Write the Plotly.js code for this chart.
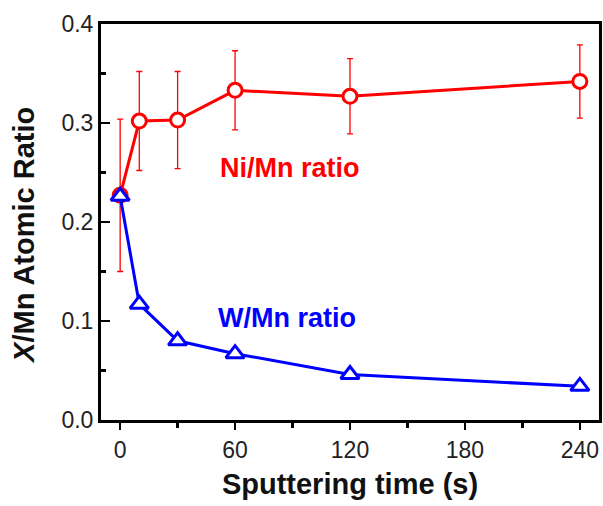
<!DOCTYPE html>
<html><head><meta charset="utf-8">
<script src="https://cdn.plot.ly/plotly-3.0.1.min.js"></script>
<style>html,body{margin:0;padding:0;background:#fff}#chart{width:603px;height:506px}</style>
</head><body><div id="chart"></div>
<script>
const timeS = [0, 10, 30, 60, 120, 240];
const niMn = [0.227, 0.302, 0.303, 0.333, 0.327, 0.342];
const niMnErr = [0.077, 0.050, 0.049, 0.040, 0.038, 0.037];
const wMn = [0.226, 0.117, 0.080, 0.067, 0.046, 0.034];
const xTicks = [0, 60, 120, 180, 240];
const yTicks = [0.0, 0.1, 0.2, 0.3, 0.4];

const traces = [
  {x: timeS, y: niMn, type: 'scatter', mode: 'lines+markers', name: 'Ni/Mn ratio',
   line: {color: '#ff0000', width: 3},
   marker: {symbol: 'circle', size: 14, color: '#fff', line: {color: '#ff0000', width: 3}},
   error_y: {type: 'data', array: niMnErr, visible: true, color: '#ff0000', thickness: 1.3, width: 3}},
  {x: timeS, y: wMn, type: 'scatter', mode: 'lines+markers', name: 'W/Mn ratio',
   line: {color: '#0000ff', width: 3},
   marker: {symbol: 'triangle-up', size: 16, color: '#fff', line: {color: '#0000ff', width: 3}}}
];

const layout = {
  width: 603, height: 506,
  margin: {l: 101, r: 4, t: 24, b: 86},
  paper_bgcolor: '#fff', plot_bgcolor: '#fff',
  showlegend: false,
  font: {family: 'Liberation Sans, Arial, sans-serif', color: '#222'},
  xaxis: {
    range: [-10, 250], tickvals: xTicks, ticktext: xTicks.map(String),
    ticks: 'outside', ticklen: 7, tickwidth: 2.5, tickcolor: '#000',
    minor: {tickvals: [30, 90, 150, 210], ticks: 'outside', ticklen: 5, tickwidth: 2.5, tickcolor: '#000'},
    showline: true, linecolor: '#000', linewidth: 3, mirror: true,
    showgrid: false, zeroline: false,
    tickfont: {size: 23, color: '#222'},
    title: {text: '<b>Sputtering time (s)</b>', font: {size: 29, color: '#111'}, standoff: 13}
  },
  yaxis: {
    range: [0, 0.4], tickvals: yTicks, ticktext: yTicks.map(v => v.toFixed(1)),
    ticks: 'inside', ticklen: 9, tickwidth: 2.5, tickcolor: '#000',
    minor: {tickvals: [0.05, 0.15, 0.25, 0.35], ticks: 'inside', ticklen: 5, tickwidth: 2.5, tickcolor: '#000'},
    showline: true, linecolor: '#000', linewidth: 3, mirror: true,
    showgrid: false, zeroline: false,
    tickfont: {size: 23, color: '#222'}
  },
  annotations: [
    {x: -0.155, y: 0.467, xref: 'paper', yref: 'paper', xanchor: 'center', yanchor: 'middle',
     text: '<b><i>X</i>/Mn Atomic Ratio</b>',
     textangle: -90, showarrow: false, font: {size: 29, color: '#111'}},
    {x: 51, y: 0.255, xref: 'x', yref: 'y', text: '<b>Ni/Mn ratio</b>', showarrow: false,
     xanchor: 'left', font: {size: 27, color: '#ff0000'}},
    {x: 50, y: 0.103, xref: 'x', yref: 'y', text: '<b>W/Mn ratio</b>', showarrow: false,
     xanchor: 'left', font: {size: 27, color: '#0000ff'}}
  ]
};
Plotly.newPlot('chart', traces, layout, {displayModeBar: false, staticPlot: true});
</script></body></html>
